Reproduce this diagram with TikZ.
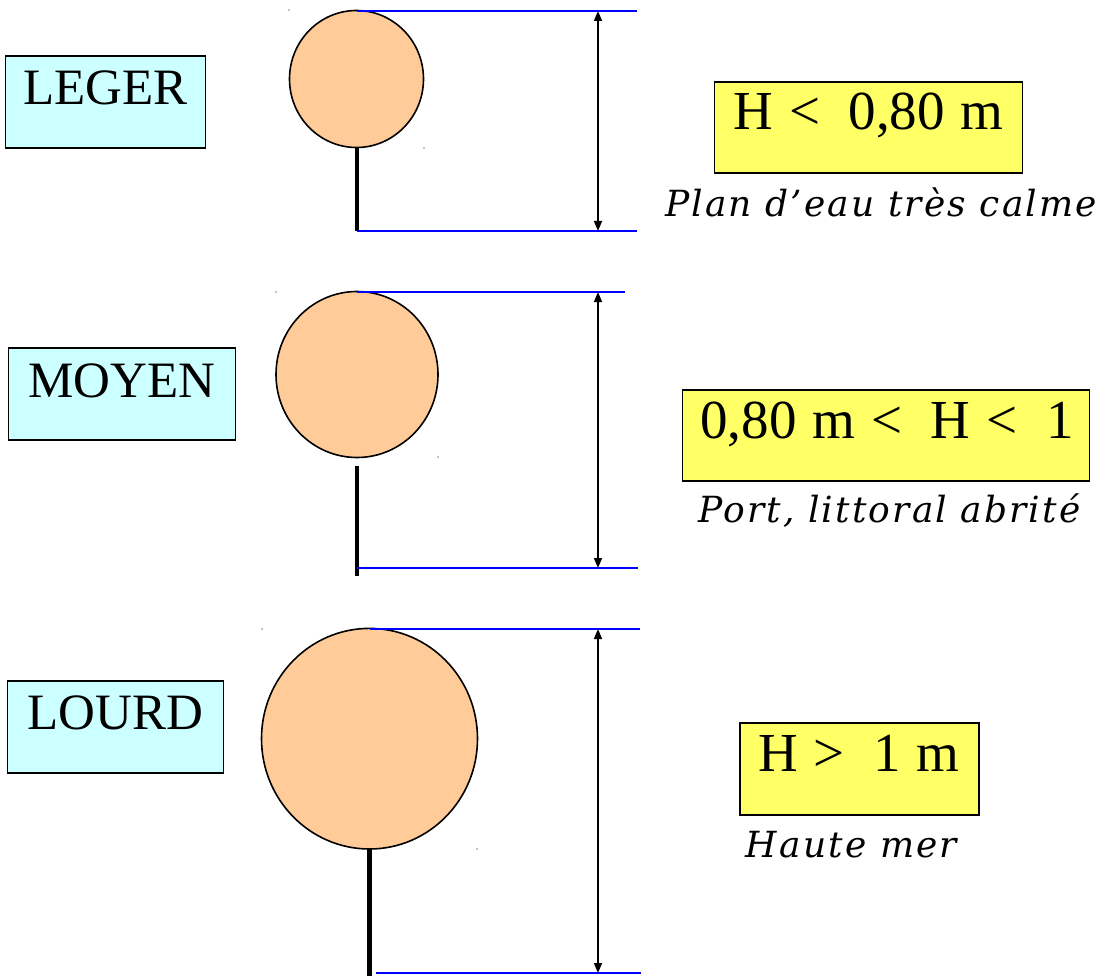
\documentclass[tikz,border=0pt]{standalone}
\usepackage{fontspec}
\setmainfont{Liberation Serif}
\newfontfamily\capfont[LetterSpace=6]{DejaVu Serif}
\usetikzlibrary{arrows.meta}
\definecolor{lcyan}{HTML}{CCFFFF}
\definecolor{lyellow}{HTML}{FFFF66}
\definecolor{lorange}{HTML}{FFCC99}
\definecolor{lblue}{HTML}{0000FF}
\newcommand{\sgap}{\hspace{16pt}}
\newcommand{\dgap}{\hspace{28.5pt}}
\tikzset{
  catbox/.style={draw=black, line width=1.6pt, fill=lcyan, inner sep=0pt},
  condbox/.style={draw=black, line width=1.6pt, fill=lyellow, inner sep=0pt},
  cattext/.style={anchor=base, inner sep=0pt, font=\fontsize{51}{56}\selectfont},
  condtext/.style={anchor=base, inner sep=0pt, font=\fontsize{55}{60}\selectfont},
  captext/.style={anchor=base, inner sep=0pt, font=\capfont\itshape\fontsize{36}{42}\selectfont},
  buoy/.style={draw=black, line width=1.6pt, fill=lorange},
  stick/.style={line width=4.5pt, black},
  level/.style={draw=lblue, line width=1.4pt},
  dim/.style={line width=1.6pt, {Triangle[length=10pt,width=8pt]}-{Triangle[length=10pt,width=8pt]}},
  speck/.style={fill=black, inner sep=0pt, minimum size=1.2pt, circle}
}
\begin{document}
\begin{tikzpicture}[x=1pt,y=-1pt]
\useasboundingbox (0,0) rectangle (1100,976);
% ---------- LEGER ----------
\node[catbox, minimum width=200pt, minimum height=92pt] (b1) at (105.5,102) {};
\node[cattext] (t1) at (105.5,105) {LEGER};
\draw[buoy] (356.5,79) ellipse [x radius=67, y radius=68.5];
\coordinate (c1top) at (356.5,11);
\coordinate (s1a) at (357,148);
\coordinate (s1b) at (357,231);
\draw[stick] (s1a) -- (s1b);
\coordinate (l1a) at (637,11);
\coordinate (l1b) at (637,231);
\draw[level] (c1top) -- (l1a);
\draw[level] (s1b) -- (l1b);
\coordinate (a1t) at (598,11);
\coordinate (a1b) at (598,231);
\draw[dim] (a1t) -- (a1b);
\node[speck] (d1a) at (289,10) {};
\node[speck] (d1b) at (424,148) {};
\node[condbox, minimum width=308pt, minimum height=91pt] (y1) at (868.5,127.5) {};
\node[condtext] (h1) at (868.5,130) {H\sgap<\dgap0,80\sgap m};
\node[captext] (p1) at (881,217) {Plan d’eau très calme};
% ---------- MOYEN ----------
\node[catbox, minimum width=227pt, minimum height=92pt] (b2) at (122,394) {};
\node[cattext] (t2) at (122,397) {MOYEN};
\draw[buoy] (357,374.5) ellipse [x radius=81, y radius=83];
\coordinate (c2top) at (357,292);
\coordinate (s2a) at (357,466);
\coordinate (s2b) at (357,576);
\draw[stick] (s2a) -- (s2b);
\coordinate (l2a) at (625,292);
\coordinate (s2c) at (357,568);
\coordinate (l2b) at (638,568);
\draw[level] (c2top) -- (l2a);
\draw[level] (s2c) -- (l2b);
\coordinate (a2t) at (598,292);
\coordinate (a2b) at (598,568);
\draw[dim] (a2t) -- (a2b);
\node[speck] (d2a) at (276,292) {};
\node[speck] (d2b) at (438,457) {};
\node[condbox, minimum width=407pt, minimum height=91pt] (y2) at (885.8,435.5) {};
\node[condtext] (h2) at (887,438.5) {0,80\sgap m\sgap<\dgap H\sgap<\dgap1};
\node[captext] (p2) at (889.5,522) {Port, littoral abrité};
% ---------- LOURD ----------
\node[catbox, minimum width=216pt, minimum height=92pt] (b3) at (115.6,727.2) {};
\node[cattext] (t3) at (115.6,729.5) {LOURD};
\draw[buoy] (369.5,738.7) ellipse [x radius=108, y radius=110.3];
\coordinate (c3top) at (369.5,629);
\coordinate (s3a) at (369.5,849);
\coordinate (s3b) at (369.5,976);
\draw[stick] (s3a) -- (s3b);
\coordinate (l3a) at (640,629);
\coordinate (s3c) at (376,973);
\coordinate (l3b) at (641,973);
\draw[level] (c3top) -- (l3a);
\draw[level] (s3c) -- (l3b);
\coordinate (a3t) at (598,629);
\coordinate (a3b) at (598,973);
\draw[dim] (a3t) -- (a3b);
\node[speck] (d3a) at (262,629) {};
\node[speck] (d3b) at (477,849) {};
\node[condbox, minimum width=239pt, minimum height=92pt] (y3) at (859.7,769.2) {};
\node[condtext] (h3) at (859,771.7) {H\sgap>\dgap1\sgap m};
\node[captext] (p3) at (851.5,857) {Haute mer};
\end{tikzpicture}
\end{document}
